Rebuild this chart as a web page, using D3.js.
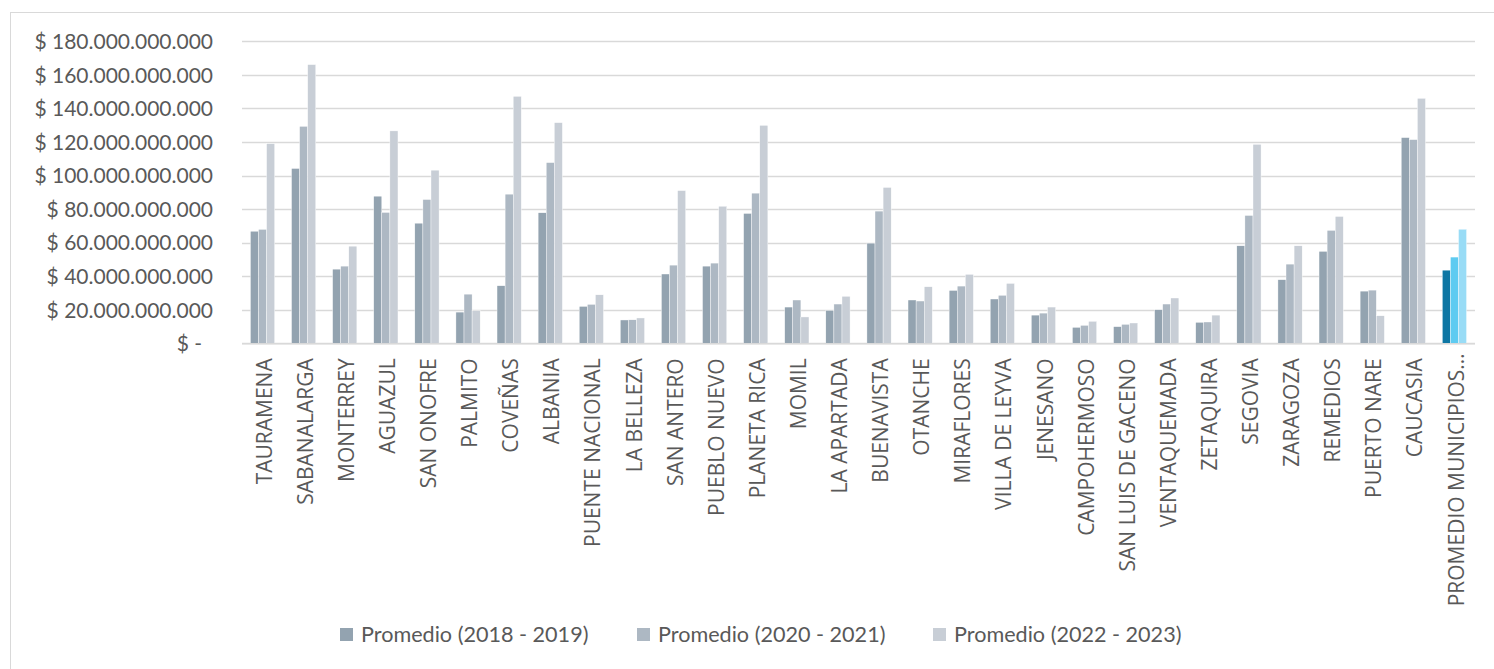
<!DOCTYPE html>
<html>
<head>
<meta charset="utf-8">
<script src="https://cdn.jsdelivr.net/npm/d3@7"></script>
<style>
  html, body { margin: 0; padding: 0; background: #fff; }
  svg { display: block; }
</style>
</head>
<body>
<svg id="chart" width="1494" height="669"></svg>
<script>
const categories = ["TAURAMENA","SABANALARGA","MONTERREY","AGUAZUL","SAN ONOFRE","PALMITO","COVEÑAS","ALBANIA","PUENTE NACIONAL","LA BELLEZA","SAN ANTERO","PUEBLO NUEVO","PLANETA RICA","MOMIL","LA APARTADA","BUENAVISTA","OTANCHE","MIRAFLORES","VILLA DE LEYVA","JENESANO","CAMPOHERMOSO","SAN LUIS DE GACENO","VENTAQUEMADA","ZETAQUIRA","SEGOVIA","ZARAGOZA","REMEDIOS","PUERTO NARE","CAUCASIA","PROMEDIO MUNICIPIOS…"];
// values in billions of pesos (x 1.000.000.000)
const prom2018_2019 = [66.8,104.2,44.2,87.7,71.6,18.6,34.3,77.8,22.0,13.9,41.3,46.0,77.4,21.6,19.6,59.7,25.8,31.5,26.4,16.8,9.5,9.9,20.0,12.5,58.1,37.9,54.8,31.1,122.6,43.6];
const prom2020_2021 = [67.9,129.3,46.0,78.0,85.7,29.3,88.9,107.7,23.2,14.0,46.6,47.8,89.5,25.8,23.4,78.8,25.2,34.1,28.6,18.0,10.7,11.3,23.4,12.7,76.2,47.2,67.3,31.7,121.4,51.4];
const prom2022_2023 = [119.0,166.1,57.9,126.6,103.2,19.4,147.2,131.5,28.9,15.1,91.0,81.7,129.9,15.7,28.0,92.9,33.7,41.1,35.7,21.6,13.1,12.1,27.0,16.8,118.6,58.1,75.6,16.4,146.0,68.0];
const seriesNames = ["Promedio (2018 - 2019)","Promedio (2020 - 2021)","Promedio (2022 - 2023)"];
const seriesColors = ["#93a3b0","#adb8c3","#c8ced6"];
const highlightColors = ["#0e77a4","#5ecbf1","#99dcf6"];
const highlightCategory = "PROMEDIO MUNICIPIOS…";
const yTicks = [0,20,40,60,80,100,120,140,160,180];

const seriesValues = [prom2018_2019, prom2020_2021, prom2022_2023].map(a => a.map(v => v * 1e9));

const svg = d3.select("#chart");
const plotLeft = 242, plotRight = 1475, plotTop = 41.3, plotBottom = 343.3;

// chart frame
svg.append("rect").attr("x",10.5).attr("y",12.5).attr("width",1500).attr("height",700)
  .attr("fill","none").attr("stroke","#d9d9d9").attr("stroke-width",1);

const y = d3.scaleLinear().domain([0,180e9]).range([plotBottom, plotTop]);
const x0 = d3.scaleBand().domain(categories).range([plotLeft, plotRight]).paddingInner(0.41).paddingOuter(0.205);
const x1 = d3.scaleBand().domain(d3.range(3)).range([0, x0.bandwidth()]).padding(0);

// gridlines
svg.append("g").selectAll("line").data(yTicks).join("line")
  .attr("x1", plotLeft).attr("x2", plotRight)
  .attr("y1", d => Math.round(y(d*1e9)) + 0.5).attr("y2", d => Math.round(y(d*1e9)) + 0.5)
  .attr("stroke", "#d9d9d9").attr("stroke-width", 1.5);

// y axis labels
const fmt = v => v === 0 ? "$ -" : "$ " + d3.format(",")(v).replace(/,/g, ".");
const yAxis = d3.axisLeft(y).tickValues(yTicks.map(d => d*1e9)).tickSize(0).tickPadding(0)
  .tickFormat(d => fmt(d));
const gy = svg.append("g").attr("transform", `translate(213,0)`).call(yAxis);
gy.select(".domain").remove();
gy.selectAll("text").attr("font-family","Lato, 'Noto Sans', sans-serif").attr("font-size","21px")
  .attr("fill","#595959").attr("dy","0.35em")
  .attr("x", d => d === 0 ? -11 : 0);

// bars
const groups = svg.append("g").selectAll("g").data(categories).join("g")
  .attr("transform", d => `translate(${x0(d)},0)`);
groups.selectAll("rect").data((c, i) => seriesValues.map((s, k) => ({c, k, v: s[i]}))).join("rect")
  .attr("x", d => x1(d.k)).attr("width", x1.bandwidth())
  .attr("y", d => y(d.v)).attr("height", d => y(0) - y(d.v))
  .attr("fill", d => d.c === highlightCategory ? highlightColors[d.k] : seriesColors[d.k])
  .attr("stroke", "#ffffff").attr("stroke-width", 0.4);

// x axis line
svg.append("line").attr("x1", plotLeft).attr("x2", plotRight).attr("y1", plotBottom+0.5).attr("y2", plotBottom+0.5)
  .attr("stroke","#d9d9d9").attr("stroke-width",1.5);

// x labels
const xAxis = d3.axisBottom(x0).tickSize(0).tickPadding(0);
const gx = svg.append("g").attr("transform", `translate(0,${plotBottom})`).call(xAxis);
gx.select(".domain").remove();
gx.selectAll(".tick text")
  .attr("font-family","'Open Sans', 'Noto Sans', sans-serif").attr("font-size","21px")
  .attr("fill","#595959")
  .attr("text-anchor","end")
  .attr("transform", d => d === highlightCategory ? "translate(1.5,10) rotate(-90)" : "translate(1.5,15) rotate(-90)")
  .attr("x",0).attr("y",0).attr("dy","0.36em");

// legend
const legendX = [340, 637, 933];
const lg = svg.append("g").selectAll("g").data(seriesNames).join("g")
  .attr("transform", (d,i) => `translate(${legendX[i]},628)`);
lg.append("rect").attr("width",13).attr("height",13).attr("fill",(d,i)=>seriesColors[i]);
lg.append("text").attr("x",21).attr("y",6.5).attr("dy","0.35em")
  .attr("font-family","Lato, 'Noto Sans', sans-serif").attr("font-size","21.6px").attr("fill","#595959")
  .text(d => d);
</script>
</body>
</html>
